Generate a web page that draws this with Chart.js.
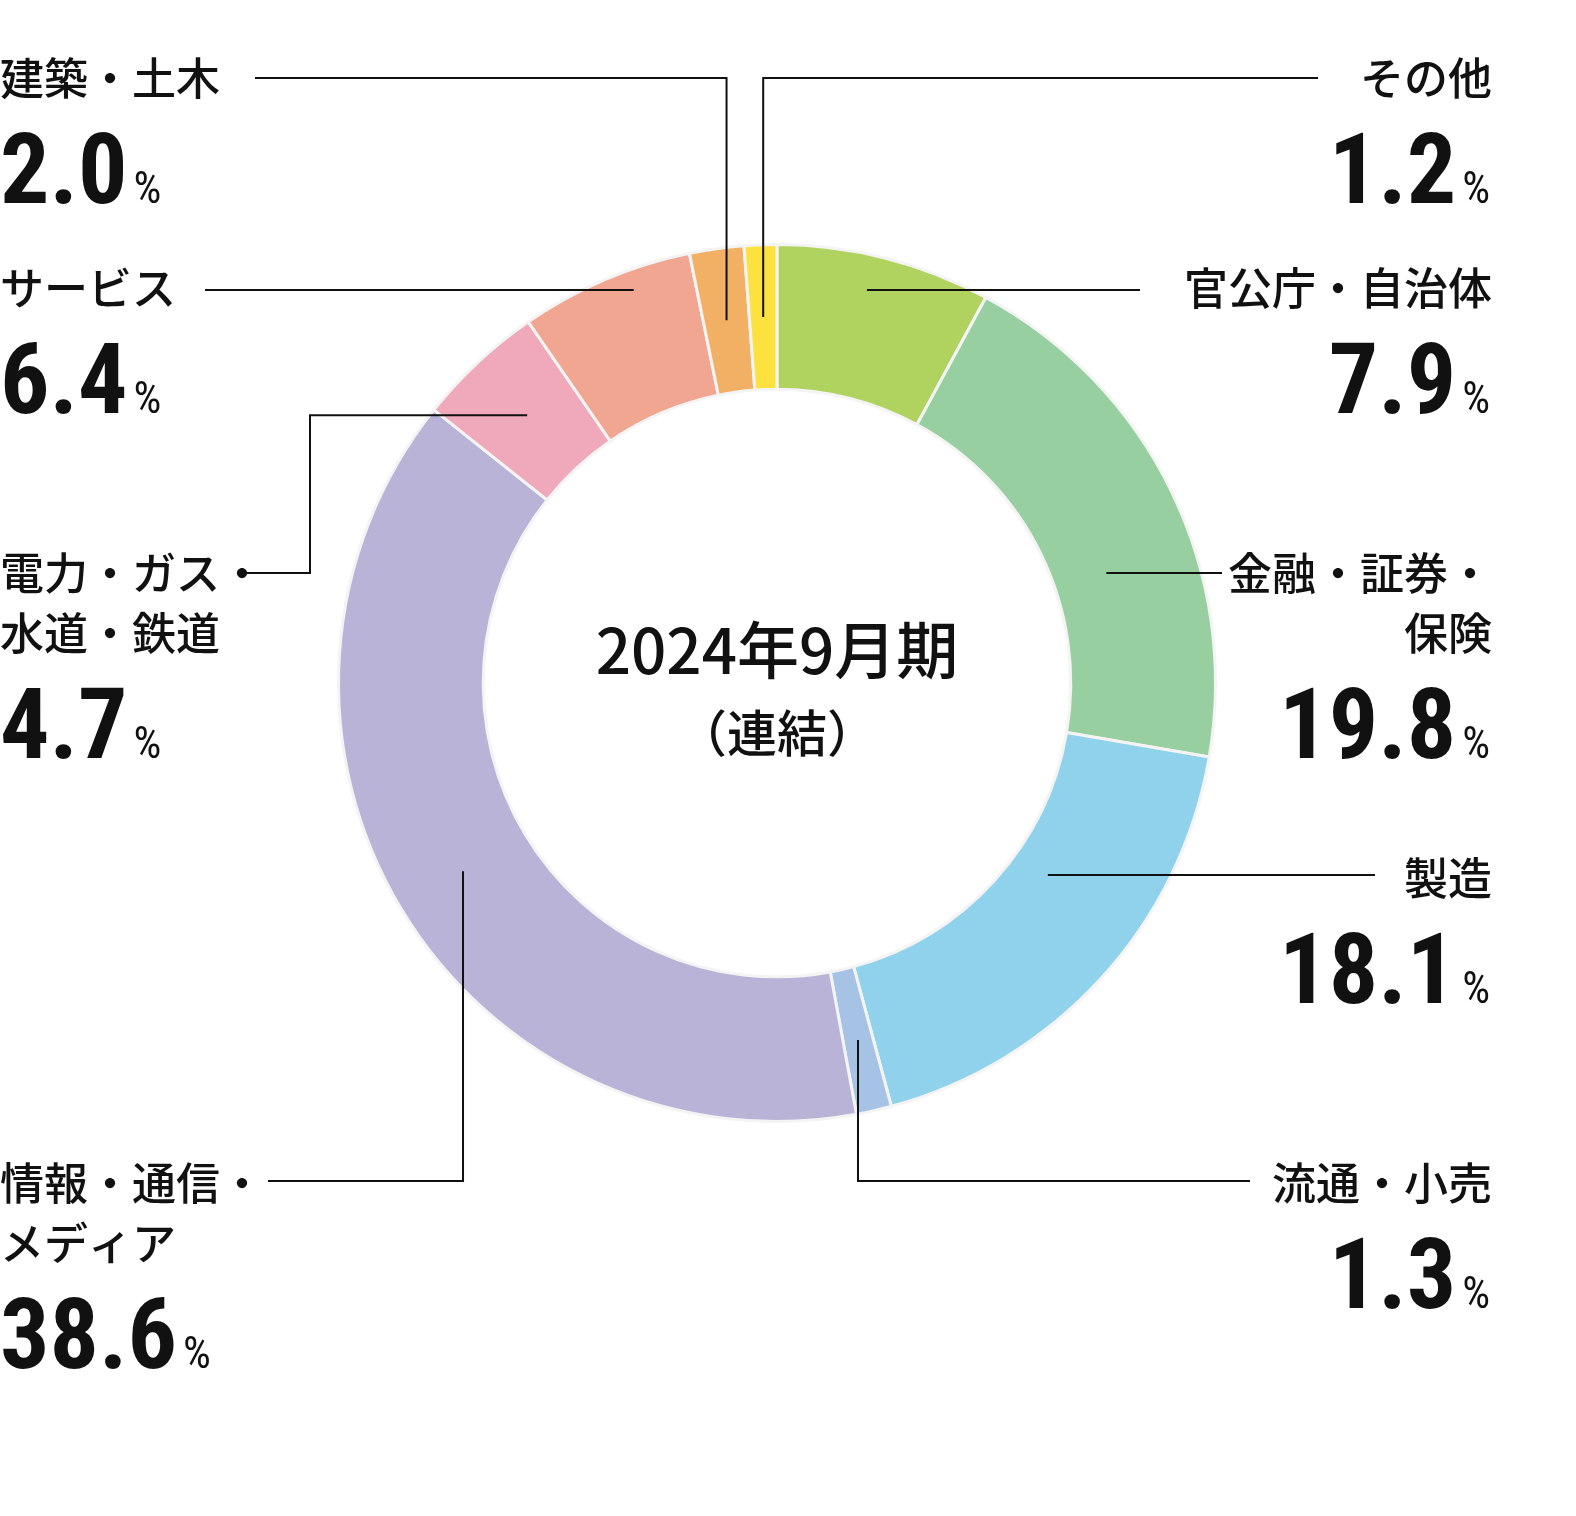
<!DOCTYPE html>
<html><head><meta charset="utf-8">
<script src="https://cdn.jsdelivr.net/npm/chart.js@4/dist/chart.umd.min.js"></script>
<style>html,body{margin:0;padding:0;background:#fff}#w{width:1576px;height:1516px;position:relative}</style>
</head><body><div id="w"><canvas id="c"></canvas></div>
<script>
const categories = ["官公庁・自治体","金融・証券・保険","製造","流通・小売","情報・通信・メディア","電力・ガス・水道・鉄道","サービス","建築・土木","その他"];
const values = [7.9, 19.8, 18.1, 1.3, 38.6, 4.7, 6.4, 2.0, 1.2];
const valueLabels = ["7.9","19.8","18.1","1.3","38.6","4.7","6.4","2.0","1.2"];
const nameLines = [["官公庁・自治体"],["金融・証券・","保険"],["製造"],["流通・小売"],["情報・通信・","メディア"],["電力・ガス・","水道・鉄道"],["サービス"],["建築・土木"],["その他"]];
const colors = ["#b0d35f","#98cfa0","#90d2ec","#a6c3e6","#b9b4d7","#f0a8bb","#f0a690","#f2b064","#fde23f"];
// layout: label side/positions and leader routes
const labelLayout = [
 {side:'r', y:305, ly:290, lx:1140, route:'h'},
 {side:'r', y:590, ly:573, lx:1222, route:'h'},
 {side:'r', y:895, ly:875, lx:1375, route:'h'},
 {side:'r', y:1200, ly:1181, lx:1250, route:'v'},
 {side:'l', y:1200, ly:1181, lx:268, route:'v'},
 {side:'l', y:590, ly:573, lx:245, route:'e', ex:310, ey:385},
 {side:'l', y:305, ly:290, lx:205, route:'h'},
 {side:'l', y:95, ly:78, lx:255, route:'v'},
 {side:'r', y:95, ly:78, lx:1318, route:'v'}
];
const NUMF = '"Liberation Sans Narrow","Roboto Condensed","DejaVu Sans Condensed",sans-serif';
const JPF = '"Noto Sans CJK JP",sans-serif';
const labelsPlugin = {
 id:'lbl',
 afterDraw(chart){
  const ctx = chart.ctx;
  const arcs = chart.getDatasetMeta(0).data;
  ctx.save();
  // center text
  const c0 = arcs[0];
  ctx.fillStyle='#111'; ctx.textAlign='center'; ctx.textBaseline='middle';
  ctx.font='500 62px '+JPF; ctx.fillText('2024年9月期', c0.x, 650);
  ctx.font='500 50px '+JPF; ctx.fillText('（連結）', c0.x, 733);
  arcs.forEach((a,i)=>{
   const L = labelLayout[i];
   const mid = (a.startAngle+a.endAngle)/2;
   const r = (a.innerRadius+a.outerRadius)/2;
   let ax = a.x + Math.cos(mid)*r, ay = a.y + Math.sin(mid)*r;
   ctx.strokeStyle='#111'; ctx.lineWidth=2;
   ctx.beginPath();
   if(L.route==='h'){ ctx.moveTo(ax,L.ly); ctx.lineTo(L.lx,L.ly); }
   else if(L.route==='v'){ ctx.moveTo(ax,ay); ctx.lineTo(ax,L.ly); ctx.lineTo(L.lx,L.ly); }
   else { ctx.moveTo(ax,ay); ctx.lineTo(L.ex,ay); ctx.lineTo(L.ex,L.ly); ctx.lineTo(L.lx,L.ly); }
   ctx.stroke();
   // name
   ctx.textBaseline='alphabetic';
   ctx.font='500 44px '+JPF; ctx.fillStyle='#111';
   const right = L.side==='r';
   ctx.textAlign = right?'right':'left';
   const X = right?1492:0;
   nameLines[i].forEach((t,k)=>ctx.fillText(t,X,L.y+k*60));
   const ny = L.y + (nameLines[i].length-1)*60 + 108;
   ctx.font='bold 98px '+NUMF;
   const nw = ctx.measureText(valueLabels[i]).width;
   ctx.font='400 44px '+NUMF;
   const pw = ctx.measureText('%').width;
   ctx.textAlign='left';
   const sx = right ? 1490-pw-6-nw : 0;
   ctx.font='bold 98px '+NUMF; ctx.fillText(valueLabels[i], sx, ny);
   ctx.font='400 44px '+NUMF; ctx.fillText('%', sx+nw+6, ny);
  });
  ctx.restore();
 }
};
new Chart(document.getElementById('c'),{
 type:'doughnut',
 data:{labels:categories,datasets:[{data:values,backgroundColor:colors,borderColor:'#f4f4f4',borderWidth:3}]},
 options:{responsive:true,maintainAspectRatio:false,animation:false,cutout:'67%',
  layout:{padding:{left:337,right:359,top:243,bottom:393}},
  plugins:{legend:{display:false},tooltip:{enabled:false}}},
 plugins:[labelsPlugin]
});
</script></body></html>
